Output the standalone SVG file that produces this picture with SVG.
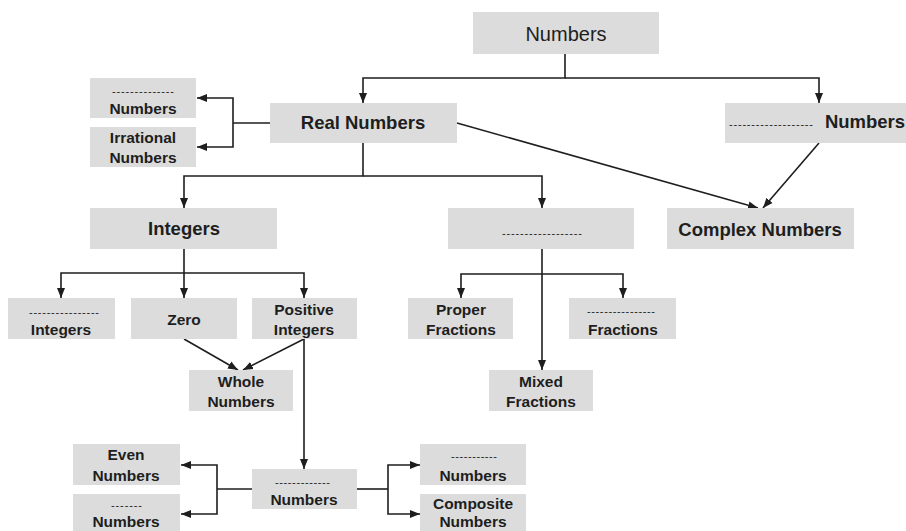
<svg xmlns="http://www.w3.org/2000/svg" width="906" height="531" viewBox="0 0 906 531">
<defs>
<style>
.box{fill:#dcdcdc}
.t{font-family:"Liberation Sans",Arial,sans-serif;font-weight:bold;font-size:15.5px;fill:#1e1e1e;text-anchor:middle}
.big{font-size:18.5px}
.reg{font-weight:normal;font-size:20px}
.d{font-family:"Liberation Sans",Arial,sans-serif;font-size:11px;fill:#1e1e1e}
.c{fill:none;stroke:#1e1e1e;stroke-width:1.6}
</style>
<marker id="ah" markerUnits="userSpaceOnUse" markerWidth="10" markerHeight="10" viewBox="0 0 10 10" refX="10" refY="5" orient="auto">
<path d="M0,1 L10,5 L0,9 Z" fill="#1e1e1e"/>
</marker>
</defs>
<rect width="906" height="531" fill="#fff"/>

<g id="connectors">
<path class="c" d="M565,54 V78 H363 V103" marker-end="url(#ah)"/>
<path class="c" d="M565,78 H819 V103" marker-end="url(#ah)"/>
<path class="c" d="M270,123 H233"/>
<path class="c" d="M233,123 V98 H197" marker-end="url(#ah)"/>
<path class="c" d="M233,123 V147 H197" marker-end="url(#ah)"/>
<path class="c" d="M457,123 L758,208" marker-end="url(#ah)"/>
<path class="c" d="M819,143 L763,208" marker-end="url(#ah)"/>
<path class="c" d="M363,143 V176 H184 V208" marker-end="url(#ah)"/>
<path class="c" d="M363,176 H542 V208" marker-end="url(#ah)"/>
<path class="c" d="M184,249 V273 H61 V298" marker-end="url(#ah)"/>
<path class="c" d="M184,273 V298" marker-end="url(#ah)"/>
<path class="c" d="M184,273 H304 V298" marker-end="url(#ah)"/>
<path class="c" d="M184,339 L238,370" marker-end="url(#ah)"/>
<path class="c" d="M304,339 L243,370" marker-end="url(#ah)"/>
<path class="c" d="M304,339 V469" marker-end="url(#ah)"/>
<path class="c" d="M542,249 V370" marker-end="url(#ah)"/>
<path class="c" d="M542,274 H461 V298" marker-end="url(#ah)"/>
<path class="c" d="M542,274 H623 V298" marker-end="url(#ah)"/>
<path class="c" d="M252,489 H217"/>
<path class="c" d="M217,489 V465 H181" marker-end="url(#ah)"/>
<path class="c" d="M217,489 V514 H181" marker-end="url(#ah)"/>
<path class="c" d="M357,489 H388"/>
<path class="c" d="M388,489 V465 H420" marker-end="url(#ah)"/>
<path class="c" d="M388,489 V514 H420" marker-end="url(#ah)"/>
</g>

<g id="numbers"><rect class="box" x="473" y="12" width="186" height="42"/><text class="t reg" x="566" y="41">Numbers</text></g>
<g id="real"><rect class="box" x="270" y="103" width="187" height="40"/><text class="t big" x="363" y="129">Real Numbers</text></g>
<g id="other-numbers"><rect class="box" x="725" y="103" width="181" height="40"/><text class="d" x="729" y="128" textLength="84" lengthAdjust="spacing">-------------------</text><text class="t big" x="865" y="128">Numbers</text></g>
<g id="complex"><rect class="box" x="667" y="208" width="187" height="41"/><text class="t big" x="760" y="236">Complex Numbers</text></g>
<g id="rational"><rect class="box" x="90" y="78" width="106" height="40"/><text class="d" x="112" y="95" textLength="62" lengthAdjust="spacing">--------------</text><text class="t" x="143" y="114">Numbers</text></g>
<g id="irrational"><rect class="box" x="90" y="127" width="106" height="40"/><text class="t" x="143" y="143">Irrational</text><text class="t" x="143" y="163">Numbers</text></g>
<g id="integers"><rect class="box" x="90" y="208" width="187" height="41"/><text class="t big" x="184" y="235">Integers</text></g>
<g id="fractions"><rect class="box" x="448" y="208" width="186" height="41"/><text class="d" x="502" y="237" textLength="80" lengthAdjust="spacing">------------------</text></g>
<g id="negative"><rect class="box" x="8" y="298" width="107" height="41"/><text class="d" x="29" y="316" textLength="70" lengthAdjust="spacing">----------------</text><text class="t" x="61" y="335">Integers</text></g>
<g id="zero"><rect class="box" x="131" y="298" width="106" height="41"/><text class="t" x="184" y="325">Zero</text></g>
<g id="positive"><rect class="box" x="252" y="298" width="105" height="41"/><text class="t" x="304" y="315">Positive</text><text class="t" x="304" y="335">Integers</text></g>
<g id="whole"><rect class="box" x="189" y="370" width="104" height="41"/><text class="t" x="241" y="387">Whole</text><text class="t" x="241" y="407">Numbers</text></g>
<g id="proper"><rect class="box" x="408" y="298" width="105" height="41"/><text class="t" x="461" y="315">Proper</text><text class="t" x="461" y="335">Fractions</text></g>
<g id="improper"><rect class="box" x="569" y="298" width="107" height="41"/><text class="d" x="587" y="315" textLength="68" lengthAdjust="spacing">----------------</text><text class="t" x="623" y="335">Fractions</text></g>
<g id="mixed"><rect class="box" x="489" y="370" width="104" height="41"/><text class="t" x="541" y="387">Mixed</text><text class="t" x="541" y="407">Fractions</text></g>
<g id="natural"><rect class="box" x="252" y="469" width="105" height="40"/><text class="d" x="275" y="486" textLength="55" lengthAdjust="spacing">-------------</text><text class="t" x="304" y="505">Numbers</text></g>
<g id="even"><rect class="box" x="73" y="444" width="107" height="41"/><text class="t" x="126" y="460">Even</text><text class="t" x="126" y="481">Numbers</text></g>
<g id="odd"><rect class="box" x="73" y="494" width="107" height="37"/><text class="d" x="111" y="509" textLength="31" lengthAdjust="spacing">-------</text><text class="t" x="126" y="527">Numbers</text></g>
<g id="prime"><rect class="box" x="420" y="444" width="106" height="41"/><text class="d" x="451" y="460" textLength="46" lengthAdjust="spacing">-----------</text><text class="t" x="473" y="481">Numbers</text></g>
<g id="composite"><rect class="box" x="420" y="494" width="106" height="37"/><text class="t" x="473" y="509">Composite</text><text class="t" x="473" y="527">Numbers</text></g>
</svg>
